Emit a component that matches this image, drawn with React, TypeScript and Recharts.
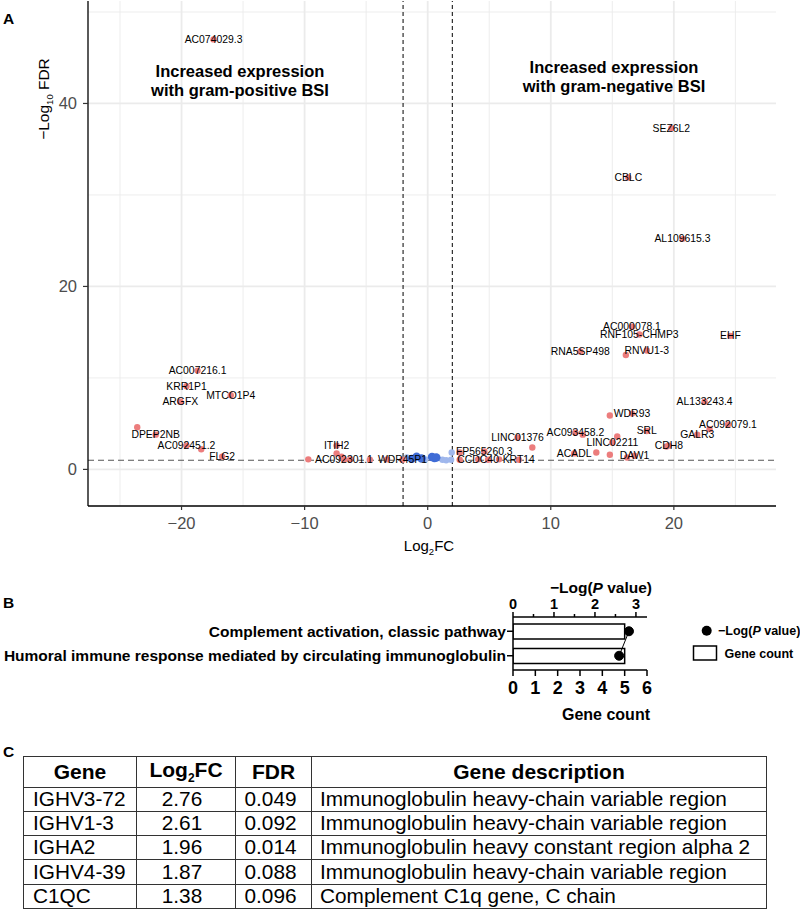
import React from "react";
import {
  ScatterChart,
  Scatter,
  XAxis,
  YAxis,
  CartesianGrid,
  ReferenceLine,
  ComposedChart,
  Bar,
  Line,
} from "recharts";

const FONT = "'Liberation Sans', Arial, Helvetica, sans-serif";

// ---------- Panel A: volcano plot ----------
const labeledGenes = [
  "AC074029.3", "AC007216.1", "KRR1P1", "ARGFX", "MTCO1P4", "DPEP2NB", "AC092451.2", "FLG2",
  "ITIH2", "AC092301.1", "WDR45P1", "FP565260.3", "CCDC40", "KRT14", "LINC01376", "AC093458.2",
  "LINC02211", "SRL", "WDR93", "ACADL", "DAW1", "CDH8", "GALR3", "AC092079.1", "AL133243.4",
  "RNA5SP498", "RNVU1-3", "RNF105-CHMP3", "AC000078.1", "EHF", "SEZ6L2", "CBLC", "AL109615.3",
];
const labeledLog2FC = [
  -17.4, -18.7, -19.6, -20.1, -16.0, -22.1, -19.6, -16.7, -7.4, -6.8, -2.05, 4.6, 4.1, 7.4, 7.3, 12.0,
  15.0, 17.8, 16.6, 11.9, 16.8, 19.6, 21.9, 24.4, 22.5, 12.4, 17.8, 17.2, 16.6, 24.6, 19.8, 16.3, 20.7,
];
const labeledNegLog10FDR = [
  47.0, 10.8, 9.1, 7.4, 8.1, 3.8, 2.6, 1.4, 2.6, 1.05, 1.05, 1.95, 1.1, 1.05, 3.5, 4.0,
  2.95, 4.2, 6.1, 1.75, 1.5, 2.6, 3.8, 4.9, 7.4, 12.9, 13.0, 14.75, 15.6, 14.6, 37.3, 31.9, 25.2,
];
const otherSigLog2FC = [
  -23.6, -18.4, -9.7, -7.4, -7.0, -6.3, -4.7, -3.3, 2.6, 2.6, 4.9, 5.8, 8.5, 13.7, 14.8, 14.8,
  15.4, 16.1, 22.9, 12.6, 16.2, 19.4,
];
const otherSigNegLog10FDR = [
  4.6, 2.2, 1.1, 1.75, 1.4, 1.1, 1.05, 1.1, 1.85, 1.05, 1.05, 1.1, 2.4, 1.85, 1.6, 5.9,
  3.6, 12.5, 4.4, 3.8, 1.3, 2.5,
];
const nsStrongLog2FC = [-0.9, -0.5, 0.35, 0.55, 0.7, -1.3];
const nsStrongNegLog10FDR = [1.4, 1.2, 1.35, 1.25, 1.3, 1.15];
const nsFaintLog2FC = [-1.7, 1.2, 1.95, 1.9, -0.2, 1.5];
const nsFaintNegLog10FDR = [1.3, 1.05, 1.85, 1.05, 1.1, 1.0];

const volcanoXTicks = [-20, -10, 0, 10, 20];
const volcanoXMinor = [-25, -15, -5, 5, 15, 25];
const volcanoYTicks = [0, 20, 40];
const volcanoYMinor = [10, 30, 50];
const log2FCCutoff = 2;
const fdrCutoff = 1; // -log10(0.1)

// ---------- Panel B: enrichment ----------
const terms = [
  "Complement activation, classic pathway",
  "Humoral immune response mediated by circulating immunoglobulin",
];
const geneCounts = [5, 5];
const negLogP = [2.83, 2.59];
const pTicks = [0, 0.5, 1, 1.5, 2, 2.5, 3];
const countTicks = [0, 1, 2, 3, 4, 5, 6];

// ---------- Panel C: table ----------
const tableGenes = ["IGHV3-72", "IGHV1-3", "IGHA2", "IGHV4-39", "C1QC"];
const tableLog2FC = ["2.76", "2.61", "1.96", "1.87", "1.38"];
const tableFDR = ["0.049", "0.092", "0.014", "0.088", "0.096"];
const tableDesc = [
  "Immunoglobulin heavy-chain variable region",
  "Immunoglobulin heavy-chain variable region",
  "Immunoglobulin heavy constant region alpha 2",
  "Immunoglobulin heavy-chain variable region",
  "Complement C1q gene, C chain",
];

const zip = (xs: number[], ys: number[], labels?: string[]) =>
  xs.map((x, i) => ({ x, y: ys[i], label: labels ? labels[i] : "" }));

const RED = "#EC7D7D";
const BLUE = "#3F6CD6";
const LIGHT_BLUE = "#9FB7EC";

const dot = (fill: string, r: number) => (p: any) =>
  p.cx == null ? <g /> : <circle cx={p.cx} cy={p.cy} r={r} fill={fill} />;

const labelShape = (p: any) =>
  p.cx == null ? (
    <g />
  ) : (
    <text
      x={p.cx}
      y={p.cy}
      textAnchor="middle"
      dominantBaseline="central"
      fontSize={10.4}
      fontFamily={FONT}
      fill="#000"
    >
      {p.payload.label}
    </text>
  );

const minusFmt = (v: number) => (v < 0 ? `\u2212${Math.abs(v)}` : String(v));

const CategoryTick = (props: any) => (
  <text
    x={props.x}
    y={props.y}
    textAnchor="end"
    dominantBaseline="central"
    fontSize={15.5}
    fontWeight="bold"
    fontFamily={FONT}
    fill="#000"
  >
    {props.payload.value}
  </text>
);

// top axis tick: integer ticks labelled with long marks, half ticks short and unlabelled
const PTick = (props: any) => {
  const v = props.payload.value;
  const major = Number.isInteger(v);
  const base = props.y + 7; // axis line position
  return (
    <g>
      <line x1={props.x} x2={props.x} y1={base} y2={base - (major ? 5 : 3)} stroke="#000" strokeWidth={1.5} />
      {major ? (
        <text
          x={props.x}
          y={props.y - 1}
          textAnchor="middle"
          fontSize={14.5}
          fontWeight="bold"
          fontFamily={FONT}
          fill="#000"
        >
          {v}
        </text>
      ) : null}
    </g>
  );
};

export default function App() {
  const labeled = zip(labeledLog2FC, labeledNegLog10FDR, labeledGenes);
  const otherSig = zip(otherSigLog2FC, otherSigNegLog10FDR);
  const nsStrong = zip(nsStrongLog2FC, nsStrongNegLog10FDR);
  const nsFaint = zip(nsFaintLog2FC, nsFaintNegLog10FDR);
  const enrichData = terms.map((t, i) => ({ term: t, count: geneCounts[i], logp: negLogP[i] }));

  const cell: React.CSSProperties = {
    border: "1px solid #333",
    padding: 0,
    verticalAlign: "middle",
    whiteSpace: "nowrap",
  };

  return (
    <div
      style={{
        position: "absolute",
        left: 0,
        top: 0,
        width: 800,
        height: 910,
        background: "#fff",
        fontFamily: FONT,
        overflow: "hidden",
      }}
    >
      {/* Panel A */}
      <div style={{ position: "absolute", left: 0, top: 0 }}>
        <ScatterChart width={800} height={560} margin={{ top: 1, right: 24, bottom: 0, left: 0 }}>
          <CartesianGrid
            stroke="#EBEBEB"
            strokeWidth={0.9}
            verticalValues={volcanoXMinor}
            horizontalValues={volcanoYMinor}
          />
          <CartesianGrid
            stroke="#EBEBEB"
            strokeWidth={1.8}
            verticalValues={volcanoXTicks}
            horizontalValues={volcanoYTicks}
          />
          <XAxis
            type="number"
            dataKey="x"
            domain={[-27.6, 28.3]}
            ticks={volcanoXTicks}
            allowDataOverflow
            height={54}
            tickSize={4}
            tickMargin={7}
            tickFormatter={minusFmt}
            axisLine={{ stroke: "#000", strokeWidth: 1.3 }}
            tickLine={{ stroke: "#333", strokeWidth: 1.2 }}
            tick={{ fill: "#4D4D4D", fontSize: 16.5, fontFamily: FONT }}
          />
          <YAxis
            type="number"
            dataKey="y"
            domain={[-4, 51.2]}
            ticks={volcanoYTicks}
            allowDataOverflow
            width={88}
            tickSize={5}
            tickMargin={6}
            axisLine={{ stroke: "#000", strokeWidth: 1.3 }}
            tickLine={{ stroke: "#333", strokeWidth: 1.2 }}
            tick={{ fill: "#4D4D4D", fontSize: 16.5, fontFamily: FONT }}
          />
          <ReferenceLine x={-log2FCCutoff} stroke="#000" strokeWidth={1} strokeDasharray="4 3" />
          <ReferenceLine x={log2FCCutoff} stroke="#000" strokeWidth={1} strokeDasharray="4 3" />
          <ReferenceLine y={fdrCutoff} stroke="#555" strokeWidth={1} strokeDasharray="6 4" />
          <Scatter data={otherSig} shape={dot(RED, 3.2)} isAnimationActive={false} />
          <Scatter data={nsFaint} shape={dot(LIGHT_BLUE, 3.2)} isAnimationActive={false} />
          <Scatter data={nsStrong} shape={dot(BLUE, 4.2)} isAnimationActive={false} />
          <Scatter data={labeled} shape={dot(RED, 3.2)} isAnimationActive={false} />
          <Scatter data={labeled} shape={labelShape} isAnimationActive={false} />
        </ScatterChart>
      </div>

      {/* Panel B */}
      <div style={{ position: "absolute", left: 0, top: 560 }}>
        <ComposedChart
          layout="vertical"
          width={800}
          height={170}
          data={enrichData}
          margin={{ top: 0, right: 153, bottom: 0, left: 0 }}
        >
          <XAxis
            xAxisId="top"
            orientation="top"
            type="number"
            domain={[0, 3.27]}
            ticks={pTicks}
            allowDataOverflow
            height={57}
            tickSize={5}
            tickMargin={2}
            tickLine={false}
            axisLine={{ stroke: "#000", strokeWidth: 1.5 }}
            tick={<PTick />}
          />
          <XAxis
            xAxisId="bottom"
            orientation="bottom"
            type="number"
            domain={[0, 6]}
            ticks={countTicks}
            allowDataOverflow
            height={60}
            tickSize={6}
            tickMargin={5}
            axisLine={{ stroke: "#000", strokeWidth: 1.5 }}
            tickLine={{ stroke: "#000", strokeWidth: 1.5 }}
            tick={{ fill: "#000", fontSize: 18, fontWeight: "bold", fontFamily: FONT }}
          />
          <YAxis
            type="category"
            dataKey="term"
            width={513}
            tickSize={6}
            tickMargin={1}
            padding={{ top: 2, bottom: 2 }}
            axisLine={{ stroke: "#000", strokeWidth: 1.5 }}
            tickLine={{ stroke: "#000", strokeWidth: 1.5 }}
            tick={<CategoryTick />}
          />
          <Bar
            xAxisId="bottom"
            dataKey="count"
            barSize={15}
            fill="#fff"
            stroke="#000"
            strokeWidth={1.5}
            isAnimationActive={false}
          />
          <Line
            xAxisId="top"
            dataKey="logp"
            stroke="#000"
            strokeWidth={1}
            dot={{ r: 4.5, fill: "#000", stroke: "#000" }}
            isAnimationActive={false}
          />
        </ComposedChart>
      </div>

      {/* Panel C */}
      <table
        style={{
          position: "absolute",
          left: 23,
          top: 756,
          width: 743,
          borderCollapse: "collapse",
          tableLayout: "fixed",
          fontFamily: FONT,
          fontSize: 20.8,
          lineHeight: 1.1,
          color: "#000",
        }}
      >
        <colgroup>
          <col style={{ width: 113 }} />
          <col style={{ width: 99 }} />
          <col style={{ width: 76 }} />
          <col style={{ width: 455 }} />
        </colgroup>
        <thead>
          <tr style={{ height: 30.5 }}>
            <th style={{ ...cell, fontSize: 21 }}>Gene</th>
            <th style={{ ...cell, fontSize: 21 }}>
              Log<sub style={{ fontSize: 12 }}>2</sub>FC
            </th>
            <th style={{ ...cell, fontSize: 21 }}>FDR</th>
            <th style={{ ...cell, fontSize: 21 }}>Gene description</th>
          </tr>
        </thead>
        <tbody>
          {tableGenes.map((g, i) => (
            <tr key={g} style={{ height: 24.3 }}>
              <td style={{ ...cell, paddingLeft: 9 }}>{g}</td>
              <td style={{ ...cell, textAlign: "center", paddingRight: 8 }}>{tableLog2FC[i]}</td>
              <td style={{ ...cell, textAlign: "center", paddingRight: 6 }}>{tableFDR[i]}</td>
              <td style={{ ...cell, paddingLeft: 8 }}>{tableDesc[i]}</td>
            </tr>
          ))}
        </tbody>
      </table>

      {/* Text overlay */}
      <svg
        width={800}
        height={910}
        style={{ position: "absolute", left: 0, top: 0, pointerEvents: "none" }}
        fontFamily={FONT}
      >
        <text x={3} y={24} fontSize={15.5} fontWeight="bold" fill="#000">A</text>
        <text
          transform="translate(48.5,99) rotate(-90)"
          textAnchor="middle"
          fontSize={15.5}
          fill="#000"
        >
          {"\u2212Log"}
          <tspan fontSize={9.5} dy={4}>10</tspan>
          <tspan dy={-4}> FDR</tspan>
        </text>
        <text x={429} y={551} textAnchor="middle" fontSize={15} fill="#000">
          Log<tspan fontSize={9.5} dy={4}>2</tspan>
          <tspan dy={-4}>FC</tspan>
        </text>
        <text x={240} y={77} textAnchor="middle" fontSize={16.5} fontWeight="bold" fill="#000">
          Increased expression
        </text>
        <text x={240} y={95.5} textAnchor="middle" fontSize={16.5} fontWeight="bold" fill="#000">
          with gram-positive BSI
        </text>
        <text x={614} y={72.5} textAnchor="middle" fontSize={16.5} fontWeight="bold" fill="#000">
          Increased expression
        </text>
        <text x={614} y={92} textAnchor="middle" fontSize={16.5} fontWeight="bold" fill="#000">
          with gram-negative BSI
        </text>

        <text x={3} y={608} fontSize={15.5} fontWeight="bold" fill="#000">B</text>
        <text x={601} y={593} textAnchor="middle" fontSize={15.5} fontWeight="bold" fill="#000">
          {"\u2212Log("}
          <tspan fontStyle="italic">P</tspan>
          {" value)"}
        </text>
        <text x={606} y={720} textAnchor="middle" fontSize={16} fontWeight="bold" fill="#000">
          Gene count
        </text>
        <circle cx={706.7} cy={630.7} r={5} fill="#000" />
        <text x={718} y={635} fontSize={12.5} fontWeight="bold" fill="#000">
          {"\u2212Log("}
          <tspan fontStyle="italic">P</tspan>
          {" value)"}
        </text>
        <rect x={693.5} y={646} width={23} height={14} fill="#fff" stroke="#000" strokeWidth={1.5} />
        <text x={724.5} y={657.5} fontSize={12.5} fontWeight="bold" fill="#000">
          Gene count
        </text>

        <text x={3} y={757} fontSize={15.5} fontWeight="bold" fill="#000">C</text>
      </svg>
    </div>
  );
}
